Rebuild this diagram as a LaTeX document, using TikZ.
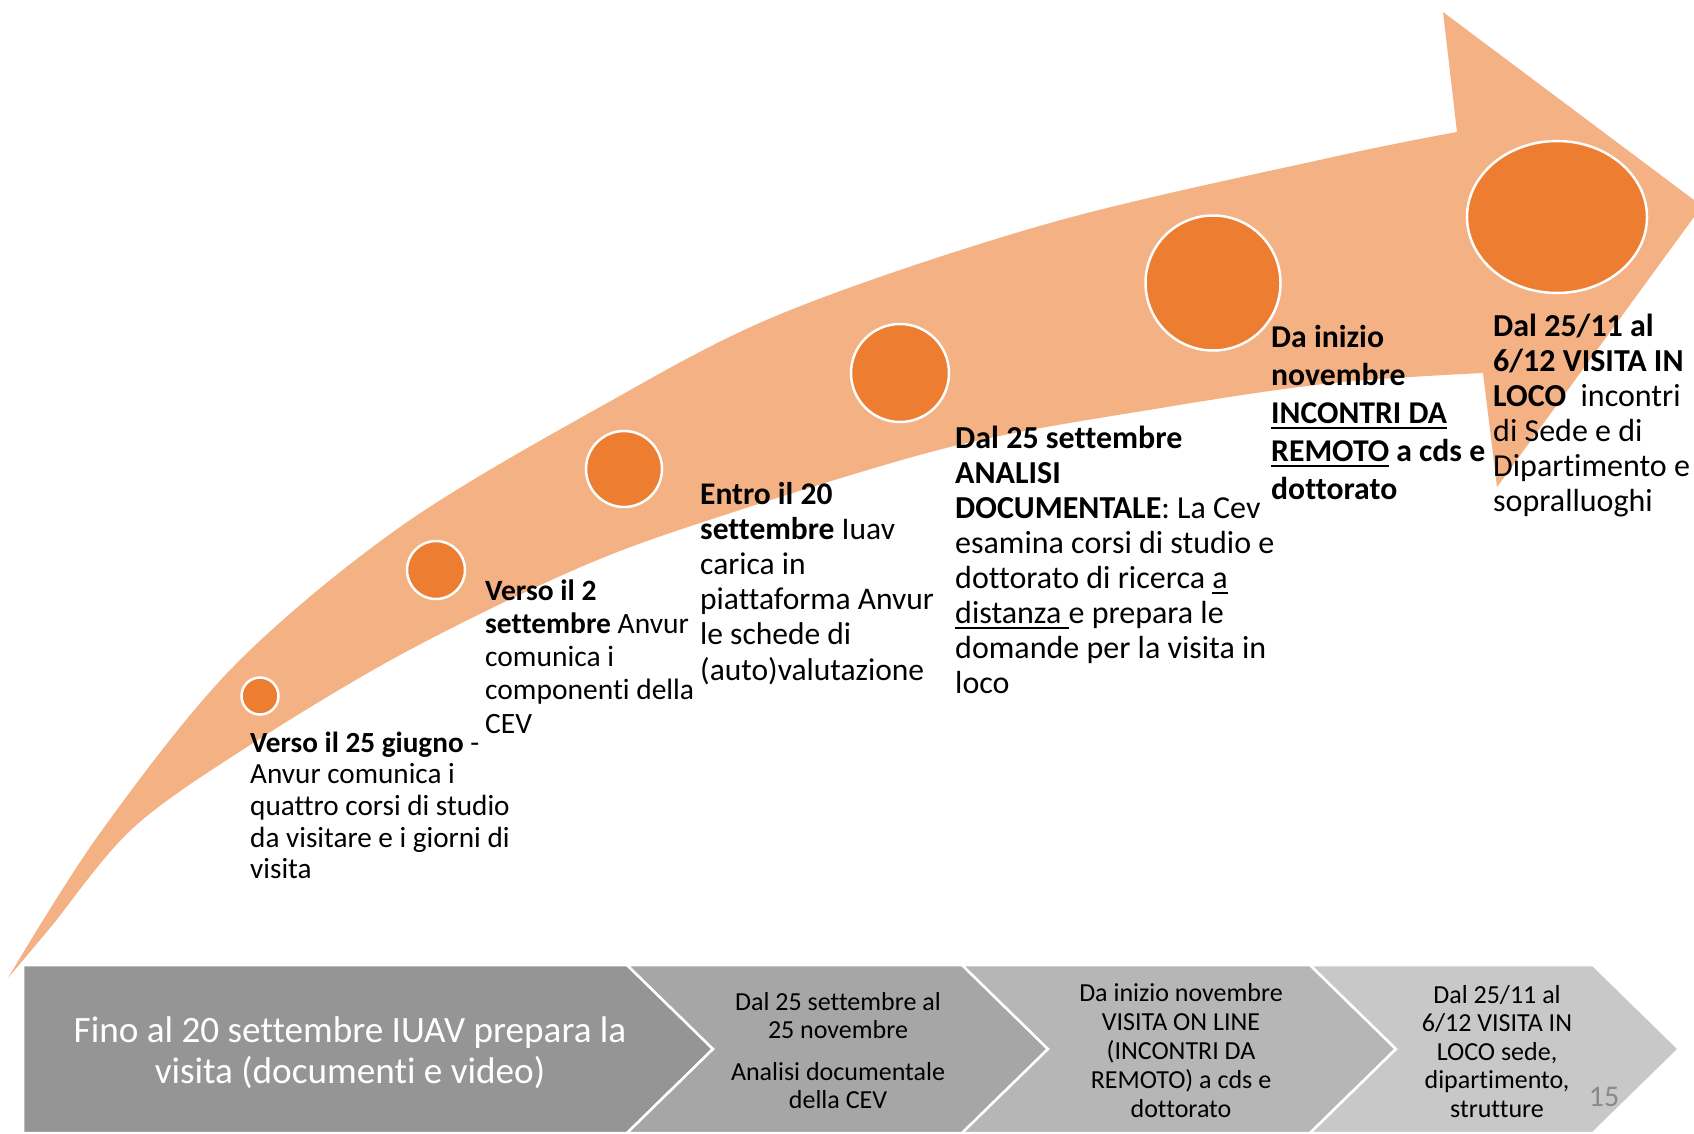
\documentclass[tikz,border=0pt]{standalone}
\usepackage{fontspec}
\setmainfont{Carlito}[Ligatures=NoCommon]
\usetikzlibrary{shapes.geometric}
\definecolor{arrowc}{RGB}{244,177,131}
\definecolor{dotc}{RGB}{237,125,49}
\definecolor{chA}{RGB}{149,149,149}
\definecolor{chB}{RGB}{166,166,166}
\definecolor{chC}{RGB}{182,182,182}
\definecolor{chD}{RGB}{200,200,200}
\definecolor{pgnum}{RGB}{137,137,137}
\newcommand{\ulx}[1]{\leavevmode\setbox0\hbox{#1}\rlap{\rule[-6pt]{\wd0}{2pt}}\box0\relax}
\begin{document}
\begin{tikzpicture}[x=1pt,y=-1pt,
  dot/.style={circle,fill=dotc,draw=white,line width=2.5pt,inner sep=0pt},
  txt/.style={anchor=base west,inner sep=0pt,text=black},
  ctxt/.style={anchor=base,inner sep=0pt},
  chev/.style={draw=white,line width=2.5pt}]
\useasboundingbox (0,0) rectangle (1694,1133);
\clip (0,0) rectangle (1694,1133);
% big curved arrow
\fill[arrowc] plot[smooth,tension=0.55] coordinates {(8,978) (100,833) (233,667) (400,527) (600,407) (783,313) (1050,223) (1333,157) (1457,132)}
  -- (1443,12) -- (1702,206) -- (1497,487) -- (1483,373)
  -- plot[smooth,tension=0.55] coordinates {(1483,373) (1333,383) (1167,407) (950,447) (700,523) (567,573) (400,655) (250,745) (133,828) (50,928) (8,978)} -- cycle;
% milestone dots
\node[dot,minimum size=37pt] (c1) at (260,696) {};
\node[dot,minimum size=58pt] (c2) at (436,570) {};
\node[dot,minimum size=76pt] (c3) at (624,469) {};
\node[dot,minimum size=98pt] (c4) at (900,373) {};
\node[dot,minimum size=135pt] (c5) at (1213,283) {};
\node[ellipse,fill=dotc,draw=white,line width=2.5pt,inner sep=0pt,minimum width=180pt,minimum height=152pt] (c6) at (1557,217) {};
% milestone texts
\node[txt] (t1) at (250,752) {\parbox[t]{300pt}{\raggedright\fontsize{29.2}{31.7}\selectfont
  \textbf{Verso il 25 giugno} -\\Anvur comunica i\\quattro corsi di studio\\da visitare e i giorni di\\visita}};
\node[txt] (t2) at (485,600) {\parbox[t]{300pt}{\raggedright\fontsize{29.5}{33.3}\selectfont
  \textbf{Verso il 2}\\\textbf{settembre} Anvur\\comunica i\\componenti della\\CEV}};
\node[txt] (t3) at (700,504) {\parbox[t]{300pt}{\raggedright\fontsize{31.5}{35.2}\selectfont
  \textbf{Entro il 20}\\\textbf{settembre} Iuav\\carica in\\piattaforma Anvur\\le schede di\\(auto)valutazione}};
\node[txt] (t4) at (955,448) {\parbox[t]{400pt}{\raggedright\fontsize{32}{35}\selectfont
  \textbf{Dal 25 settembre}\\\textbf{ANALISI}\\\textbf{DOCUMENTALE}: La Cev\\esamina corsi di studio e\\dottorato di ricerca \ulx{a}\\\ulx{distanza\ }e prepara le\\domande per la visita in\\loco}};
\node[txt] (t5) at (1271,347) {\parbox[t]{300pt}{\raggedright\fontsize{31.7}{38}\selectfont\bfseries
  Da inizio\\novembre\\\ulx{INCONTRI DA}\\\ulx{REMOTO} a cds e\\dottorato}};
\node[txt] (t6) at (1493,336) {\parbox[t]{300pt}{\raggedright\fontsize{32}{35}\selectfont
  \textbf{Dal 25/11 al}\\\textbf{6/12 VISITA IN}\\\textbf{LOCO}\ \ incontri\\di Sede e di\\Dipartimento e\\sopralluoghi}};
% bottom chevrons
\path[fill=chA,chev] (23,965) -- (627,965) -- (713,1049) -- (627,1133) -- (23,1133) -- cycle;
\path[fill=chB,chev] (627,965) -- (962,965) -- (1048,1049) -- (962,1133) -- (627,1133) -- (713,1049) -- cycle;
\path[fill=chC,chev] (962,965) -- (1310,965) -- (1396,1049) -- (1310,1133) -- (962,1133) -- (1048,1049) -- cycle;
\path[fill=chD,chev] (1310,965) -- (1593,965) -- (1679,1049) -- (1593,1133) -- (1310,1133) -- (1396,1049) -- cycle;
\node[ctxt,text=white] (b1) at (350,1042) {\parbox[t]{640pt}{\centering\fontsize{37.2}{41}\selectfont
  Fino al 20 settembre IUAV prepara la\\visita (documenti e video)}};
\node[ctxt] (b2) at (838,1010) {\parbox[t]{300pt}{\centering\fontsize{26}{28.8}\selectfont
  Dal 25 settembre al\\25 novembre\\[12.5pt]Analisi documentale\\della CEV}};
\node[ctxt] (b3) at (1181,1001) {\parbox[t]{300pt}{\centering\fontsize{26}{29}\selectfont
  Da inizio novembre\\VISITA ON LINE\\(INCONTRI DA\\REMOTO) a cds e\\dottorato}};
\node[ctxt] (b4) at (1497,1003) {\parbox[t]{300pt}{\centering\fontsize{26}{28.5}\selectfont
  Dal 25/11 al\\6/12 VISITA IN\\LOCO sede,\\dipartimento,\\strutture}};
\node[ctxt,text=pgnum,font=\fontsize{30}{32}\selectfont] (pg) at (1604,1106) {15};
\end{tikzpicture}
\end{document}
